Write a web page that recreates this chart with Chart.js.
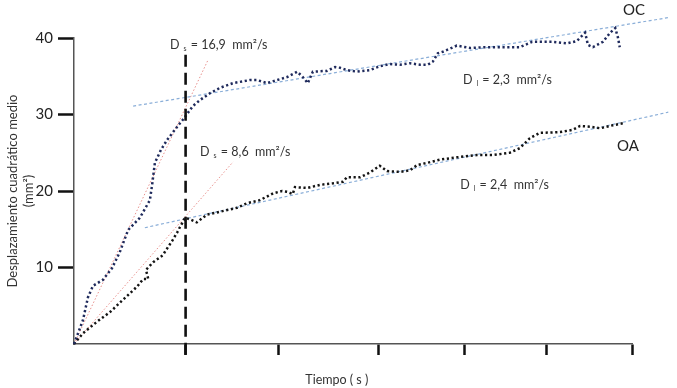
<!DOCTYPE html>
<html>
<head>
<meta charset="utf-8">
<script src="https://cdn.jsdelivr.net/npm/chart.js@4.4.1/dist/chart.umd.min.js"></script>
<style>
  html, body { margin: 0; padding: 0; background: #fff; }
</style>
</head>
<body>
<canvas id="msdChart" width="677" height="388"></canvas>
<script>
// Tiempo (unidades del eje, 0-100) y desplazamiento cuadrático medio (mm2)
var ocTime = [0, 1.6, 2.5, 3.4, 5.2, 6.8, 8.2, 9.7, 11.8, 13.6, 14.0, 14.5, 15.6, 16.7, 18.5, 19.5, 20.4, 21.3, 22.6, 24.4,
  26.2, 28.5, 31.5, 32.8, 34.6, 36.4, 38.2, 40.0, 41.0, 41.9, 42.8, 45.3, 46.8, 47.7, 48.9, 50.7, 53.0, 54.8, 56.6, 58.4,
  60.2, 62.0, 63.4, 64.3, 65.2, 66.1, 68.6, 71.0, 74.0, 76.9, 79.9, 82.1, 85.8, 88.4, 90.1, 91.6, 92.1, 93.0, 94.8, 96.1,
  97.0, 97.5, 97.8];
var ocMsd = [0, 3.1, 6.1, 7.6, 8.4, 9.9, 12.0, 14.9, 16.5, 18.8, 20.8, 23.7, 25.4, 26.7, 28.4, 29.3, 30.2, 31.1, 31.9, 32.8,
  33.5, 34.1, 34.5, 34.5, 34.1, 34.5, 34.9, 35.6, 34.9, 34.1, 35.6, 35.7, 36.2, 36.1, 35.8, 35.6, 35.8, 36.3, 36.6, 36.5,
  36.7, 36.5, 36.5, 36.9, 38.0, 38.2, 39.0, 38.7, 38.8, 38.8, 38.8, 39.5, 39.5, 39.3, 39.6, 40.7, 39.1, 38.8, 39.5, 40.7,
  41.3, 40.0, 38.8];

var oaTime = [0, 1.6, 4.1, 6.5, 8.8, 11.3, 12.4, 13.3, 12.9, 14.2, 15.9, 16.7, 17.7, 18.5, 19.0, 19.9, 20.8, 22.0, 23.8, 26.2,
  29.2, 31.0, 33.3, 35.7, 37.3, 38.2, 39.2, 39.6, 41.8, 44.1, 46.4, 48.2, 48.9, 51.3, 53.0, 54.8, 56.1, 58.4, 60.2, 61.5,
  63.4, 65.6, 68.6, 72.2, 75.1, 78.1, 79.9, 81.7, 83.5, 87.1, 89.4, 90.7, 92.5, 94.3, 96.6, 98.7];
var oaMsd = [0, 1.4, 2.9, 4.2, 5.8, 7.5, 8.5, 8.5, 9.7, 10.7, 11.6, 12.5, 13.6, 14.6, 15.3, 16.5, 16.3, 15.9, 16.9, 17.3,
  17.8, 18.4, 18.8, 19.7, 20.0, 19.9, 19.6, 20.5, 20.4, 20.8, 21.0, 21.2, 21.8, 21.8, 22.4, 23.3, 22.6, 22.5, 22.7, 23.4,
  23.7, 24.1, 24.4, 24.7, 24.7, 25.0, 25.6, 26.9, 27.6, 27.7, 28.0, 28.5, 28.4, 28.2, 28.6, 28.9];

// ajustes lineales: regimen tardio (Dl) y regimen inicial (Ds)
var ocLateTime = [10.6, 106.8];
var ocLateMsd = [31.1, 42.7];
var oaLateTime = [12.7, 106.5];
var oaLateMsd = [15.2, 30.3];
var ocEarlyTime = [0, 24.0];
var ocEarlyMsd = [0, 37.1];
var oaEarlyTime = [0, 28.5];
var oaEarlyMsd = [0, 23.8];

// linea de corte entre los dos regimenes
var cutTime = [20.0, 20.0];
var cutMsd = [-1.4, 38.0];

var xTickValues = [20, 36.6, 54.5, 69.9, 84.6, 100];
var yTickValues = [10, 20, 30, 40];

var coefLabels = [
  { main: 'D', sub: 's', rest: ' = 16,9  mm²/s', x: 17.2, y: 39.1 },
  { main: 'D', sub: 's', rest: ' = 8,6  mm²/s', x: 22.6, y: 25.1 },
  { main: 'D', sub: 'l', rest: ' = 2,3  mm²/s', x: 69.7, y: 34.5 },
  { main: 'D', sub: 'l', rest: ' = 2,4  mm²/s', x: 69.2, y: 20.8 }
];
var seriesLabels = [
  { text: 'OC', x: 98.4, y: 43.7 },
  { text: 'OA', x: 97.3, y: 25.9 }
];
var xTitle = 'Tiempo ( s )';
var yTitle = ['Desplazamiento cuadrático medio', '(mm²)'];

function pairs(xs, ys) {
  return xs.map(function (x, i) { return { x: x, y: ys[i] }; });
}

function line(xs, ys, color, width, dash, order) {
  return {
    data: pairs(xs, ys),
    borderColor: color,
    borderWidth: width,
    borderDash: dash,
    borderCapStyle: 'butt',
    pointRadius: 0,
    tension: 0,
    fill: false,
    clip: false,
    order: order
  };
}

var FONT = 'Lato, "Open Sans", sans-serif';

var textPlugin = {
  id: 'textPlugin',
  afterDraw: function (chart) {
    var ctx = chart.ctx;
    var xs = chart.scales.x, ys = chart.scales.y;
    ctx.save();
    ctx.fillStyle = '#333';
    ctx.textBaseline = 'middle';
    ctx.textAlign = 'left';
    coefLabels.forEach(function (l) {
      var px = xs.getPixelForValue(l.x);
      var py = ys.getPixelForValue(l.y);
      ctx.font = '12.5px ' + FONT;
      ctx.fillText(l.main, px, py);
      px += ctx.measureText(l.main).width + 4;
      ctx.font = '7px ' + FONT;
      ctx.fillText(l.sub, px, py + 4);
      px += ctx.measureText(l.sub).width + 1;
      ctx.font = '12.5px ' + FONT;
      ctx.fillText(l.rest, px, py);
    });
    ctx.font = '15px ' + FONT;
    ctx.fillStyle = '#222';
    seriesLabels.forEach(function (l) {
      ctx.fillText(l.text, xs.getPixelForValue(l.x), ys.getPixelForValue(l.y));
    });
    // titulo del eje x, un poco a la izquierda del centro como en el original
    ctx.font = '12.5px ' + FONT;
    ctx.fillStyle = '#333';
    ctx.textAlign = 'center';
    ctx.fillText(xTitle, xs.getPixelForValue(47.1), 380);
    ctx.restore();
  }
};

new Chart(document.getElementById('msdChart'), {
  type: 'line',
  data: {
    datasets: [
      line(ocTime, ocMsd, '#1f2a5c', 2.5, [2.2, 2.6], 1),
      line(oaTime, oaMsd, '#141414', 2.5, [2.2, 2.6], 2),
      line(ocLateTime, ocLateMsd, '#8aaed8', 1.2, [3, 2.5], 3),
      line(oaLateTime, oaLateMsd, '#8aaed8', 1.2, [3, 2.5], 4),
      line(ocEarlyTime, ocEarlyMsd, '#e8908c', 1, [1.5, 2], 5),
      line(oaEarlyTime, oaEarlyMsd, '#e8908c', 1, [1.5, 2], 6),
      line(cutTime, cutMsd, '#111', 2.6, [12, 6], 0)
    ]
  },
  options: {
    responsive: false,
    animation: false,
    layout: { padding: { top: 38, right: 45, left: 0, bottom: 0 } },
    plugins: { legend: { display: false }, tooltip: { enabled: false } },
    scales: {
      x: {
        type: 'linear',
        min: 0,
        max: 100,
        afterBuildTicks: function (scale) {
          scale.ticks = xTickValues.map(function (v) { return { value: v }; });
        },
        afterFit: function (scale) { scale.height = 44; },
        ticks: { display: false },
        grid: { drawOnChartArea: false, drawTicks: true, tickLength: 11, tickColor: '#111', tickWidth: 2.5 },
        border: { color: '#555', width: 1.5 }
      },
      y: {
        type: 'linear',
        min: 0,
        max: 40,
        afterBuildTicks: function (scale) {
          scale.ticks = yTickValues.map(function (v) { return { value: v }; });
        },
        afterFit: function (scale) { scale.width = 74; },
        ticks: { color: '#222', padding: 5, font: { family: FONT, size: 15 } },
        grid: { drawOnChartArea: false, drawTicks: true, tickLength: 16, tickColor: '#111', tickWidth: 2.5 },
        border: { color: '#555', width: 1.5 },
        title: {
          display: true,
          text: yTitle,
          color: '#333',
          font: { family: FONT, size: 13 },
          padding: { top: 5, bottom: 0 }
        }
      }
    }
  },
  plugins: [textPlugin]
});
</script>
</body>
</html>
